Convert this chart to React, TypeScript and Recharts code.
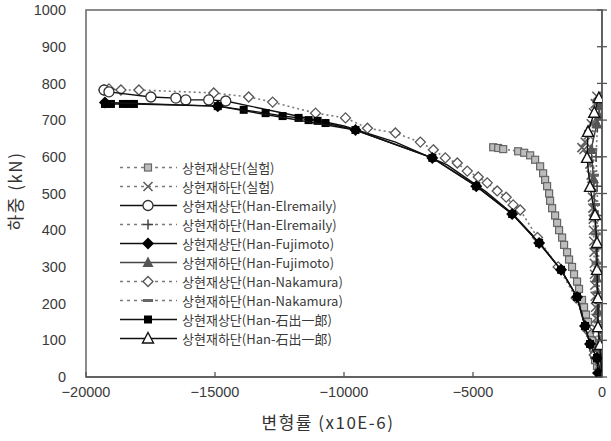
import React from 'react';
import { Legend, ReferenceArea, Scatter, ScatterChart, XAxis, YAxis } from 'recharts';

// strain (x10E-6) vs load (kN)
const xTicks = [-20000, -15000, -10000, -5000, 0];
const yTicks = [0, 100, 200, 300, 400, 500, 600, 700, 800, 900, 1000];

const expTop = [
  { x: -4217, y: 626 }, { x: -4023, y: 624 }, { x: -3830, y: 621 }, { x: -3250, y: 615 },
  { x: -3017, y: 611 }, { x: -2785, y: 604 }, { x: -2592, y: 592 }, { x: -2398, y: 574 },
  { x: -2282, y: 555 }, { x: -2205, y: 537 }, { x: -2128, y: 520 }, { x: -2050, y: 500 },
  { x: -2012, y: 480 }, { x: -1934, y: 460 }, { x: -1818, y: 440 }, { x: -1741, y: 420 },
  { x: -1664, y: 400 }, { x: -1547, y: 380 }, { x: -1470, y: 360 }, { x: -1354, y: 340 },
  { x: -1277, y: 320 }, { x: -1161, y: 300 }, { x: -1083, y: 280 }, { x: -967, y: 260 },
  { x: -890, y: 240 }, { x: -774, y: 210 }, { x: -696, y: 190 }, { x: -619, y: 170 },
  { x: -542, y: 150 }, { x: -464, y: 120 }, { x: -387, y: 100 }, { x: -348, y: 80 },
  { x: -309, y: 60 }, { x: -271, y: 46 }, { x: -193, y: 30 }, { x: -116, y: 15 }, { x: -77, y: 0 },
];

const expBottom = [
  { x: 0, y: 0 }, { x: -60, y: 20 }, { x: -110, y: 45 }, { x: -150, y: 70 }, { x: -180, y: 100 },
  { x: -210, y: 130 }, { x: -230, y: 160 }, { x: -250, y: 190 }, { x: -265, y: 220 },
  { x: -280, y: 250 }, { x: -290, y: 280 }, { x: -300, y: 310 }, { x: -310, y: 340 },
  { x: -320, y: 370 }, { x: -330, y: 400 }, { x: -340, y: 430 }, { x: -355, y: 460 },
  { x: -370, y: 490 }, { x: -390, y: 520 }, { x: -420, y: 550 }, { x: -470, y: 580 },
  { x: -560, y: 605 }, { x: -700, y: 620 }, { x: -780, y: 625 }, { x: -650, y: 640 },
  { x: -520, y: 660 }, { x: -420, y: 690 }, { x: -330, y: 720 }, { x: -260, y: 745 }, { x: -200, y: 765 },
];

// marked points of the Elremaily top curve, then its unmarked continuation
const elTop = [
  { x: -19300, y: 782 }, { x: -19110, y: 777 }, { x: -17485, y: 763 }, { x: -16518, y: 760 },
  { x: -16132, y: 755 }, { x: -15242, y: 755 }, { x: -14584, y: 752 },
];
const elTopTail = [
  { x: -14584, y: 752 }, { x: -12000, y: 714 }, { x: -10000, y: 684 }, { x: -8000, y: 640 },
  { x: -6000, y: 578 }, { x: -4500, y: 505 }, { x: -3482, y: 446 }, { x: -2437, y: 367 },
  { x: -1586, y: 292 }, { x: -967, y: 218 }, { x: -658, y: 139 }, { x: -464, y: 90 },
  { x: -193, y: 52 }, { x: 0, y: 0 },
];

const elBottom = [
  { x: 0, y: 0 }, { x: -40, y: 60 }, { x: -70, y: 130 }, { x: -100, y: 200 }, { x: -120, y: 280 },
  { x: -140, y: 360 }, { x: -160, y: 440 }, { x: -190, y: 520 }, { x: -230, y: 600 },
  { x: -180, y: 680 }, { x: -90, y: 750 },
];

const fjTop = [
  { x: -19265, y: 748 }, { x: -14893, y: 738 }, { x: -9555, y: 673 }, { x: -6576, y: 597 },
  { x: -4874, y: 520 }, { x: -3482, y: 444 }, { x: -2437, y: 365 }, { x: -1586, y: 292 },
  { x: -967, y: 218 }, { x: -658, y: 139 }, { x: -464, y: 90 }, { x: -193, y: 52 },
  { x: -155, y: 11 }, { x: 0, y: 0 },
];

const fjBottom = [
  { x: 0, y: 0 }, { x: -120, y: 90 }, { x: -170, y: 180 }, { x: -210, y: 270 }, { x: -240, y: 360 },
  { x: -280, y: 450 }, { x: -330, y: 540 }, { x: -420, y: 620 }, { x: -200, y: 690 },
  { x: -120, y: 712 }, { x: -60, y: 740 },
];

const nkTop = [
  { x: -19304, y: 782 }, { x: -19110, y: 785 }, { x: -18646, y: 782 }, { x: -17950, y: 782 },
  { x: -15048, y: 774 }, { x: -13694, y: 763 }, { x: -12766, y: 749 }, { x: -11103, y: 719 },
  { x: -9942, y: 706 }, { x: -9091, y: 678 }, { x: -8008, y: 665 }, { x: -7041, y: 640 },
  { x: -6537, y: 619 }, { x: -6073, y: 597 }, { x: -5609, y: 583 }, { x: -5222, y: 561 },
  { x: -4797, y: 545 }, { x: -4449, y: 529 }, { x: -4062, y: 507 }, { x: -3714, y: 490 },
  { x: -3443, y: 469 }, { x: -3172, y: 455 }, { x: -2500, y: 380 }, { x: -1700, y: 300 },
  { x: -1000, y: 215 }, { x: -600, y: 130 }, { x: -300, y: 60 }, { x: 0, y: 0 },
];

const nkBottom = [
  { x: 0, y: 0 }, { x: -90, y: 70 }, { x: -140, y: 150 }, { x: -180, y: 230 }, { x: -210, y: 310 },
  { x: -240, y: 390 }, { x: -270, y: 470 }, { x: -310, y: 550 }, { x: -380, y: 620 },
  { x: -290, y: 690 }, { x: -170, y: 750 },
];

const isTop = [
  { x: -19265, y: 744 }, { x: -19033, y: 744 }, { x: -18569, y: 744 }, { x: -18337, y: 744 },
  { x: -18143, y: 744 }, { x: -14893, y: 738 }, { x: -13888, y: 728 }, { x: -13037, y: 719 },
  { x: -12379, y: 711 }, { x: -11760, y: 706 }, { x: -11373, y: 700 }, { x: -11025, y: 698 },
  { x: -10716, y: 692 }, { x: -9555, y: 673 }, { x: -6576, y: 597 }, { x: -4874, y: 520 },
  { x: -3482, y: 444 }, { x: -2437, y: 365 }, { x: -1586, y: 292 }, { x: -967, y: 218 },
  { x: -658, y: 139 }, { x: -464, y: 90 }, { x: -193, y: 52 }, { x: 0, y: 0 },
];

const isBottom = [
  { x: 0, y: 0 }, { x: -77, y: 87 }, { x: -155, y: 136 }, { x: -155, y: 215 }, { x: -193, y: 292 },
  { x: -193, y: 365 }, { x: -271, y: 441 }, { x: -464, y: 518 }, { x: -580, y: 597 },
  { x: -542, y: 668 }, { x: -300, y: 720 }, { x: -120, y: 760 },
];

const SOLID = { stroke: '#111', strokeWidth: 1.4 };
const DOTTED = { stroke: '#7a7a7a', strokeWidth: 1.6, strokeDasharray: '2 3' };

const series = [
  { name: '상현재상단(실험)', data: expTop, line: DOTTED, mark: 'sqs' },
  { name: '상현재하단(실험)', data: expBottom, line: DOTTED, mark: 'x' },
  { name: '상현재상단(Han-Elremaily)', data: elTop, line: SOLID, mark: 'circ' },
  { name: '상현재하단(Han-Elremaily)', data: elBottom, line: DOTTED, mark: 'plus' },
  { name: '상현재상단(Han-Fujimoto)', data: fjTop, line: SOLID, mark: 'dfill' },
  { name: '상현재하단(Han-Fujimoto)', data: fjBottom, line: { ...SOLID, stroke: '#444' }, mark: 'tfill' },
  { name: '상현재상단(Han-Nakamura)', data: nkTop, line: DOTTED, mark: 'dopen' },
  { name: '상현재하단(Han-Nakamura)', data: nkBottom, line: DOTTED, mark: 'dash' },
  { name: '상현재상단(Han-石出一郎)', data: isTop, line: SOLID, mark: 'sqf' },
  { name: '상현재하단(Han-石出一郎)', data: isBottom, line: SOLID, mark: 'topen' },
];

// draw order: grey experimental bands at the back, filled markers on top
const drawOrder = [0, 1, 3, 7, 6, 2, 5, 9, 8, 4];

const FONT = '"Liberation Sans", "Noto Sans CJK KR", sans-serif';
const KFONT = '"Noto Sans CJK KR", "Liberation Sans", sans-serif';

const Mark = ({ kind, cx, cy }: any) => {
  if (cx == null || cy == null) return null;
  switch (kind) {
    case 'sqs':
      return <rect x={cx - 3.5} y={cy - 3.5} width={7} height={7} fill="#bdbdbd" stroke="#666" strokeWidth={1.2} />;
    case 'x':
      return (
        <path d={`M${cx - 4.5},${cy - 4.5}L${cx + 4.5},${cy + 4.5}M${cx - 4.5},${cy + 4.5}L${cx + 4.5},${cy - 4.5}`}
          stroke="#606060" strokeWidth={1.6} fill="none" />
      );
    case 'circ':
      return <circle cx={cx} cy={cy} r={5} fill="#fff" stroke="#333" strokeWidth={1.3} />;
    case 'plus':
      return (
        <path d={`M${cx - 5},${cy}L${cx + 5},${cy}M${cx},${cy - 5}L${cx},${cy + 5}`}
          stroke="#444" strokeWidth={1.5} fill="none" />
      );
    case 'dfill':
      return <path d={`M${cx},${cy - 6}L${cx + 6},${cy}L${cx},${cy + 6}L${cx - 6},${cy}Z`} fill="#000" />;
    case 'tfill':
      return <path d={`M${cx},${cy - 6}L${cx + 5.5},${cy + 4.5}L${cx - 5.5},${cy + 4.5}Z`} fill="#555" />;
    case 'dopen':
      return (
        <path d={`M${cx},${cy - 5}L${cx + 5},${cy}L${cx},${cy + 5}L${cx - 5},${cy}Z`}
          fill="#fff" stroke="#555" strokeWidth={1.3} />
      );
    case 'dash':
      return <rect x={cx - 5} y={cy - 1.5} width={10} height={3} fill="#666" />;
    case 'sqf':
      return <rect x={cx - 4} y={cy - 4} width={8} height={8} fill="#000" />;
    case 'topen':
      return (
        <path d={`M${cx},${cy - 6}L${cx + 5.5},${cy + 4.5}L${cx - 5.5},${cy + 4.5}Z`}
          fill="#fff" stroke="#111" strokeWidth={1.4} />
      );
    default:
      return null;
  }
};

const BottomTick = ({ x, y, payload }: any) => (
  <g>
    <line x1={x} x2={x} y1={y} y2={y - 5} stroke="#555" strokeWidth={1.3} />
    <text x={x} y={y + 16} textAnchor="middle" dominantBaseline="middle"
      fontFamily={FONT} fontSize={14.5} fill="#3a3a3a">
      {payload.value === 0 ? '0' : String(payload.value).replace('-', '\u2212')}
    </text>
  </g>
);

const RightTick = ({ x, y }: any) => (
  <line x1={x - 5} x2={x + 5} y1={y} y2={y} stroke="#555" strokeWidth={1.3} />
);

const LegendBox = () => (
  <div style={{ fontFamily: KFONT, fontSize: 13, color: '#3a3a3a', lineHeight: '19px' }}>
    {series.map((s) => (
      <div key={s.name} style={{ display: 'flex', alignItems: 'center', height: 19 }}>
        <svg width={62} height={19}>
          <line x1={2} x2={59} y1={9.5} y2={9.5} {...s.line}
            strokeDasharray={s.line.strokeDasharray ? '3 4' : undefined} />
          <Mark kind={s.mark} cx={30} cy={9.5} />
        </svg>
        <span style={{ marginLeft: 2, whiteSpace: 'nowrap' }}>{s.name}</span>
      </div>
    ))}
  </div>
);

export default function App() {
  return (
    <div style={{ position: 'absolute', left: 0, top: 0, width: 611, height: 441, background: '#fff' }}>
      <ScatterChart width={611} height={441} margin={{ top: 10, right: 0, bottom: 0, left: 0 }}>
        <ReferenceArea x1={-20000} x2={0} y1={0} y2={1000} fill="none" stroke="#666" strokeWidth={1.5} />
        <XAxis
          type="number"
          dataKey="x"
          domain={[-20000, 0]}
          ticks={xTicks}
          allowDataOverflow
          height={64}
          tickSize={0}
          tickMargin={0}
          tickLine={false}
          axisLine={{ stroke: '#555', strokeWidth: 1.5 }}
          tick={<BottomTick />}
        />
        <YAxis
          type="number"
          dataKey="y"
          domain={[0, 1000]}
          ticks={yTicks}
          allowDataOverflow
          width={86}
          axisLine={false}
          tickLine={false}
          tickMargin={14}
          tick={{ fontFamily: FONT, fontSize: 14.5, fill: '#3a3a3a' }}
        />
        <YAxis
          yAxisId="r"
          orientation="right"
          type="number"
          domain={[0, 1000]}
          ticks={yTicks}
          allowDataOverflow
          width={9}
          tickSize={0}
          tickMargin={0}
          tickLine={false}
          axisLine={{ stroke: '#555', strokeWidth: 1.5 }}
          tick={<RightTick />}
        />
        <Scatter
          name="Elremaily tail"
          legendType="none"
          data={elTopTail}
          fill="#111"
          line={{ ...SOLID, fill: 'none' }}
          lineType="joint"
          shape={() => <g />}
          isAnimationActive={false}
        />
        {drawOrder.map((i) => {
          const s = series[i];
          return (
            <Scatter
              key={s.name}
              name={s.name}
              data={s.data}
              fill={s.line.stroke}
              line={{ ...s.line, fill: 'none' }}
              lineType="joint"
              shape={(p: any) => <Mark kind={s.mark} cx={p.cx} cy={p.cy} />}
              isAnimationActive={false}
            />
          );
        })}
        <Legend
          layout="vertical"
          align="center"
          verticalAlign="middle"
          wrapperStyle={{ left: 118, top: 158, width: 260 }}
          content={<LegendBox />}
        />
      </ScatterChart>
      <div style={{
        position: 'absolute', left: 0, top: 411, width: 656, textAlign: 'center',
        fontFamily: KFONT, fontSize: 17, color: '#333', letterSpacing: 1.5, lineHeight: '22px',
      }}>
        변형률 (x10E-6)
      </div>
      <div style={{
        position: 'absolute', left: 15, top: 191, transform: 'translate(-50%, -50%) rotate(-90deg)',
        fontFamily: KFONT, fontSize: 17, color: '#333', letterSpacing: 1.5, whiteSpace: 'nowrap', lineHeight: '22px',
      }}>
        하중 (kN)
      </div>
    </div>
  );
}
